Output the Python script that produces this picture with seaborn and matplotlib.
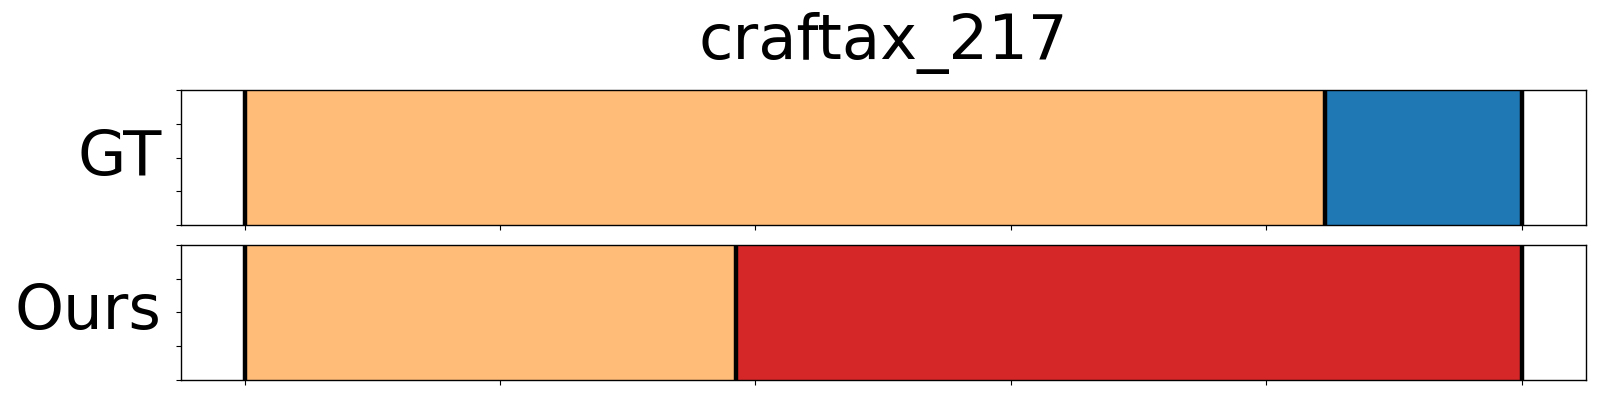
import numpy as np
import pandas as pd
import seaborn as sns
import matplotlib.pyplot as plt

# segment data (normalised time, 0..1)
title = "craftax_217"
rows = ["GT", "Ours"]
gt_bounds = [0.0, 11 / 13, 1.0]
gt_colors = ["#ffbb78", "#1f77b4"]
ours_bounds = [0.0, 5 / 13, 1.0]
ours_colors = ["#ffbb78", "#d62728"]
x_ticks = [0.0, 0.2, 0.4, 0.6, 0.8, 1.0]
y_ticks = [0.0, 0.25, 0.5, 0.75, 1.0]

sns.set_style("white")
plt.rcParams['font.family'] = ['DejaVu Sans']
plt.rcParams['text.color'] = 'black'
plt.rcParams['axes.labelcolor'] = 'black'

fig, axes = plt.subplots(2, 1, figsize=(16, 4), dpi=100, sharex=True)
fig.subplots_adjust(left=0.113, right=0.991, top=0.775, bottom=0.05, hspace=0.148)

for ax, name, bounds, colors in zip(axes, rows, [gt_bounds, ours_bounds], [gt_colors, ours_colors]):
    seg = pd.DataFrame({'start': bounds[:-1], 'end': bounds[1:], 'color': colors})
    for _, r in seg.iterrows():
        ax.barh(0.5, r['end'] - r['start'], left=r['start'], height=1.0, color=r['color'], linewidth=0)
    # black separators at every segment boundary
    for b in bounds:
        ax.axvline(b, color='black', linewidth=3.2)
    ax.set_xlim(-0.05, 1.05)
    ax.set_ylim(0, 1)
    ax.set_xticks(x_ticks)
    ax.set_yticks(y_ticks)
    ax.tick_params(axis='both', which='both', length=3.5, width=0.8, color='black',
                   left=True, bottom=True, labelleft=False, labelbottom=False)
    ax.set_ylabel(name, rotation=0, fontsize=45, ha='right', va='center', color='black')
    ax.yaxis.set_label_coords(-0.0135, 0.5)
    for spine in ax.spines.values():
        spine.set_color('black')
        spine.set_linewidth(1.0)

axes[0].set_title(title, fontsize=45, pad=22, color='black')

plt.savefig('out.png', dpi=100)
